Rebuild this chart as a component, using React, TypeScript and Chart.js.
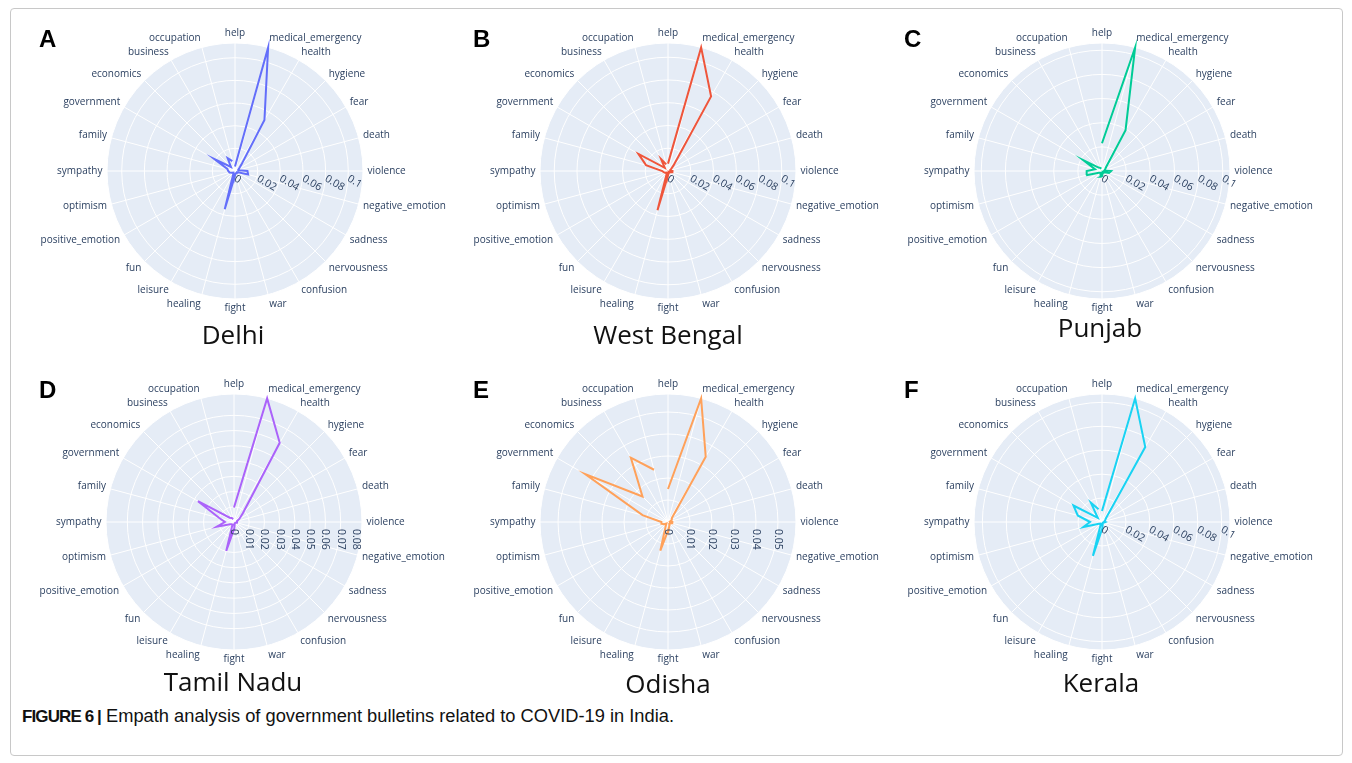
import React, { useEffect, useRef } from 'react';
import { Chart, registerables } from 'chart.js';

Chart.register(...registerables);

// ---- categories (clockwise from top) ----
const categories = [
  'help', 'medical_emergency', 'health', 'hygiene', 'fear', 'death', 'violence',
  'negative_emotion', 'sadness', 'nervousness', 'confusion', 'war', 'fight',
  'healing', 'leisure', 'fun', 'positive_emotion', 'optimism', 'sympathy',
  'family', 'government', 'economics', 'business', 'occupation',
];

// ---- series values ----
const delhiValues = [0.004, 0.113, 0.052, 0.008, 0.004, 0.003, 0.011, 0.012, 0.002, 0.002, 0.002, 0.002, 0.004, 0.035, 0.003, 0.002, 0.003, 0.005, 0.006, 0.007, 0.021, 0.005, 0.013, 0.009];
const westBengalValues = [0.0065, 0.1125, 0.0757, 0.0067, 0.003, 0.002, 0.004, 0.004, 0.002, 0.001, 0.002, 0.002, 0.004, 0.0357, 0.002, 0.002, 0.003, 0.004, 0.005, 0.02, 0.03, 0.004, 0.012, 0.006];
const punjabValues = [0.023, 0.106, 0.039, 0.005, 0.003, 0.002, 0.0075, 0.006, 0.002, 0.002, 0.001, 0.002, 0.004, 0.005, 0.002, 0.002, 0.003, 0.0135, 0.0127, 0.006, 0.0178, 0.004, 0.003, 0.002];
const tamilNaduValues = [0.0095, 0.084, 0.06, 0.0082, 0.004, 0.002, 0.002, 0.002, 0.001, 0.001, 0.001, 0.002, 0.004, 0.0197, 0.002, 0.002, 0.003, 0.0118, 0.006, 0.01, 0.0273, 0.004, 0.003, 0.002];
const odishaValues = [0.015, 0.0582, 0.0343, 0.0025, 0.002, 0.001, 0.002, 0.002, 0.001, 0.001, 0.001, 0.002, 0.004, 0.0135, 0.002, 0.001, 0.002, 0.003, 0.003, 0.012, 0.0435, 0.0164, 0.0338, 0.0246];
const keralaValues = [0.0092, 0.107, 0.0723, 0.005, 0.003, 0.002, 0.003, 0.002, 0.001, 0.001, 0.001, 0.002, 0.005, 0.0293, 0.002, 0.002, 0.003, 0.0162, 0.01, 0.021, 0.0276, 0.005, 0.0186, 0.011];

// ---- radial tick labels ----
const ticksWide = ['0', '0.02', '0.04', '0.06', '0.08', '0.1'];
const ticksTamilNadu = ['0', '0.01', '0.02', '0.03', '0.04', '0.05', '0.06', '0.07', '0.08'];
const ticksOdisha = ['0', '0.01', '0.02', '0.03', '0.04', '0.05'];

// ---- panel titles & letters ----
const panelTitles = ['Delhi', 'West Bengal', 'Punjab', 'Tamil Nadu', 'Odisha', 'Kerala'];
const panelLetters = ['A', 'B', 'C', 'D', 'E', 'F'];

const CANVAS_W = 430;
const CANVAS_H = 300;
const R = 128;
const FONT = '"Open Sans", "Noto Sans", sans-serif';
const LABEL_COLOR = '#2a3f5f';

type PanelSpec = {
  values: number[];
  color: string;
  max: number;
  step: number;
  ticks: string[];
  tickRot: number;
  cx: number;
  cy: number;
  title: string;
  titleX: number;
  titleY: number;
  letter: string;
  letterX: number;
  letterY: number;
};

const panels: PanelSpec[] = [
  { values: delhiValues, color: '#636EFA', max: 0.113, step: 0.02, ticks: ticksWide, tickRot: 30, cx: 235, cy: 171, title: panelTitles[0], titleX: 233, titleY: 335, letter: panelLetters[0], letterX: 39, letterY: 31 },
  { values: westBengalValues, color: '#EF553B', max: 0.1125, step: 0.02, ticks: ticksWide, tickRot: 30, cx: 668, cy: 171, title: panelTitles[1], titleX: 668, titleY: 335, letter: panelLetters[1], letterX: 473, letterY: 31 },
  { values: punjabValues, color: '#00CC96', max: 0.106, step: 0.02, ticks: ticksWide, tickRot: 30, cx: 1102, cy: 171, title: panelTitles[2], titleX: 1100, titleY: 328, letter: panelLetters[2], letterX: 904, letterY: 31 },
  { values: tamilNaduValues, color: '#AB63FA', max: 0.084, step: 0.01, ticks: ticksTamilNadu, tickRot: 90, cx: 234, cy: 522, title: panelTitles[3], titleX: 233, titleY: 682, letter: panelLetters[3], letterX: 39, letterY: 382 },
  { values: odishaValues, color: '#FFA15A', max: 0.0582, step: 0.01, ticks: ticksOdisha, tickRot: 90, cx: 668, cy: 522, title: panelTitles[4], titleX: 668, titleY: 684, letter: panelLetters[4], letterX: 473, letterY: 382 },
  { values: keralaValues, color: '#19D3F3', max: 0.107, step: 0.02, ticks: ticksWide, tickRot: 30, cx: 1102, cy: 522, title: panelTitles[5], titleX: 1101, titleY: 683, letter: panelLetters[5], letterX: 904, letterY: 382 },
];

const openLinePlugin = {
  id: 'openLine',
  afterDatasetsUpdate(chart: any) {
    chart.data.datasets.forEach((_d: any, i: number) => {
      const meta = chart.getDatasetMeta(i);
      const line = meta.dataset;
      if (line) {
        line._loop = false;
        line._fullLoop = false;
        delete line._segments;
        delete line._path;
      }
    });
  },
};

function makeLabelPlugin(tickLabels: string[], tickRot: number) {
  return {
    id: 'polarLabels',
    afterDraw(chart: any) {
      const scale = chart.scales.r;
      const ctx = chart.ctx;
      ctx.save();
      // angular labels
      ctx.font = `10px ${FONT}`;
      ctx.fillStyle = LABEL_COLOR;
      ctx.textBaseline = 'middle';
      const labels: string[] = chart.data.labels;
      labels.forEach((lab, i) => {
        const a = scale.getIndexAngle(i);
        const s = Math.sin(a);
        const c = Math.cos(a);
        const pos = scale.getPointPosition(i, scale.drawingArea + 4.5);
        ctx.textAlign = Math.abs(s) < 0.1 ? 'center' : s > 0 ? 'left' : 'right';
        ctx.fillText(lab, pos.x, pos.y - 5 * c);
      });
      // radial tick labels
      ctx.font = `10.5px ${FONT}`;
      ctx.textAlign = 'left';
      ctx.textBaseline = 'middle';
      tickLabels.forEach((t) => {
        const v = parseFloat(t);
        const x = scale.xCenter + scale.getDistanceFromCenterForValue(v);
        const y = scale.yCenter + 7;
        ctx.save();
        ctx.translate(x, y);
        ctx.rotate((tickRot * Math.PI) / 180);
        ctx.fillText(t, 0, 0);
        ctx.restore();
      });
      ctx.restore();
    },
  };
}

function PolarPanel({ p }: { p: PanelSpec }) {
  const ref = useRef<HTMLCanvasElement | null>(null);
  useEffect(() => {
    if (!ref.current) return;
    const padX = CANVAS_W / 2 - R;
    const padY = CANVAS_H / 2 - R;
    const chart = new Chart(ref.current, {
      type: 'radar',
      data: {
        labels: categories,
        datasets: [
          {
            data: p.values,
            borderColor: p.color,
            borderWidth: 2,
            pointRadius: 0,
            pointHoverRadius: 0,
            fill: false,
            tension: 0,
          } as any,
        ],
      },
      options: {
        animation: false,
        responsive: false,
        maintainAspectRatio: false,
        layout: { padding: { left: padX, right: padX, top: padY, bottom: padY } },
        plugins: { legend: { display: false }, tooltip: { enabled: false } },
        scales: {
          r: {
            min: 0,
            max: p.max,
            backgroundColor: '#E5ECF6',
            grid: { color: '#ffffff', circular: true, lineWidth: 1 },
            angleLines: { color: '#ffffff', lineWidth: 1 },
            ticks: { display: false, stepSize: p.step },
            pointLabels: { display: false },
          } as any,
        },
      } as any,
      plugins: [openLinePlugin, makeLabelPlugin(p.ticks, p.tickRot)],
    });
    return () => chart.destroy();
  }, [p]);
  return (
    <canvas
      ref={ref}
      width={CANVAS_W}
      height={CANVAS_H}
      style={{
        position: 'absolute',
        left: p.cx - CANVAS_W / 2,
        top: p.cy - CANVAS_H / 2,
        width: CANVAS_W,
        height: CANVAS_H,
      }}
    />
  );
}

export default function App() {
  return (
    <div
      style={{
        position: 'absolute',
        left: 0,
        top: 0,
        width: 1352,
        height: 763,
        background: '#ffffff',
        overflow: 'hidden',
      }}
    >
      <div
        style={{
          position: 'absolute',
          left: 10,
          top: 8,
          width: 1331,
          height: 746,
          border: '1px solid #c8c8c8',
          borderRadius: 4,
        }}
      />
      {panels.map((p, i) => (
        <PolarPanel key={i} p={p} />
      ))}
      {panels.map((p, i) => (
        <div
          key={'t' + i}
          style={{
            position: 'absolute',
            left: p.titleX - 150,
            top: p.titleY - 16,
            width: 300,
            textAlign: 'center',
            font: `26px ${FONT}`,
            lineHeight: '30px',
            color: '#111',
            whiteSpace: 'nowrap',
          }}
        >
          {p.title}
        </div>
      ))}
      {panels.map((p, i) => (
        <div
          key={'l' + i}
          style={{
            position: 'absolute',
            left: p.letterX,
            top: p.letterY - 4,
            font: 'bold 24px "Liberation Sans", Arial, sans-serif',
            lineHeight: '24px',
            color: '#000',
          }}
        >
          {p.letter}
        </div>
      ))}
      <div
        style={{
          position: 'absolute',
          left: 22,
          top: 705,
          fontFamily: '"Liberation Sans", Arial, sans-serif',
          lineHeight: '22px',
          color: '#111',
          whiteSpace: 'nowrap',
        }}
      >
        <span style={{ fontWeight: 'bold', fontSize: 17, letterSpacing: -0.9 }}>FIGURE 6 |</span>
        <span style={{ fontSize: 18.3 }}> Empath analysis of government bulletins related to COVID-19 in India.</span>
      </div>
    </div>
  );
}
